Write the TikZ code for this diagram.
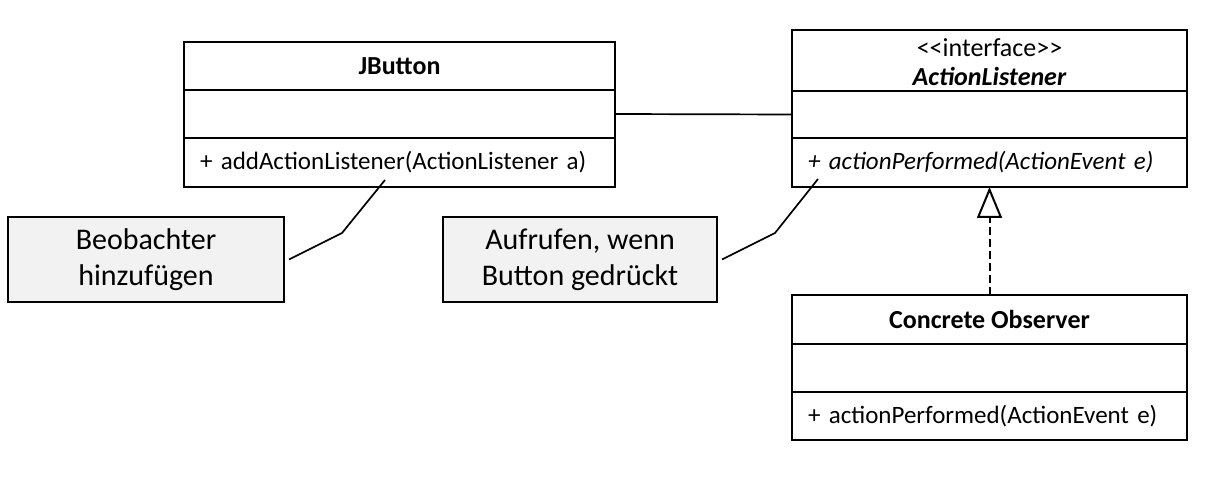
\documentclass[tikz,border=0pt]{standalone}
\usepackage{fontspec}
\setmainfont{Carlito}
\usetikzlibrary{arrows.meta, positioning}
\definecolor{notegray}{RGB}{242,242,242}

\begin{document}
\begin{tikzpicture}[
  x=1pt, y=-1pt,
  every node/.style={font=\fontsize{12.5}{14.5}\selectfont},
  part/.style={rectangle, draw, line width=1pt, outer sep=0pt, inner sep=0pt, align=center},
  namepart/.style={part, font=\fontsize{13}{14.5}\selectfont\bfseries},
  methpart/.style={part, align=left, inner xsep=8pt, minimum height=24.5pt},
  notebox/.style={rectangle, draw, line width=1pt, fill=notegray, minimum width=138pt, minimum height=42.5pt, align=center, font=\fontsize{15}{18}\selectfont},
  link/.style={line width=0.85pt},
  realize/.style={-{Triangle[open, length=15.5pt, width=12.5pt]}, line width=1pt, dash pattern=on 4pt off 2pt}
]
\useasboundingbox (0,0) rectangle (608,251);

% JButton (left class)
\node[namepart, anchor=north, minimum width=215.5pt, minimum height=24pt] (jbname) at (199.75,21) {JButton};
\node[part, minimum width=215.5pt, minimum height=24pt, below=0pt of jbname] (jbattr) {};
\node[methpart, text width=199.5pt, below=0pt of jbattr] (jbmeth) {+ addActionListener(ActionListener a)};

% ActionListener (interface), title text set a bit low in its box
\node[part, anchor=north, minimum width=197.5pt, minimum height=30.5pt] (alname) at (494.75,15) {};
\node[align=center, inner sep=0pt, font=\fontsize{13}{14.5}\selectfont] (altitle) at ([yshift=-1pt]alname.center) {<\kern0pt<interface>\kern0pt>\\\textbf{\textit{ActionListener}}};
\node[part, minimum width=197.5pt, minimum height=23.5pt, below=0pt of alname] (alattr) {};
\node[methpart, text width=181.5pt, below=0pt of alattr] (almeth) {\textit{+ actionPerformed(ActionEvent e)}};

% Concrete Observer
\node[namepart, anchor=north, minimum width=197.5pt, minimum height=24.5pt] (coname) at (494.75,147.5) {Concrete Observer};
\node[part, minimum width=197.5pt, minimum height=24pt, below=0pt of coname] (coattr) {};
\node[methpart, text width=181.5pt, minimum height=24pt, below=0pt of coattr] (cometh) {+ actionPerformed(ActionEvent e)};

% notes
\node[notebox] (addnote) at (73,129.75) {Beobachter\\hinzufügen};
\node[notebox, minimum width=137pt] (callnote) at (290,129.75) {Aufrufen, wenn\\Button gedrückt};

% note hooks
\coordinate (addbend) at (171,116.5);
\coordinate (addhook) at (192.5,90);
\coordinate (callbend) at (387.5,116.5);
\coordinate (callhook) at (409,89.5);

% association
\draw[link] (jbattr.east) -- (alattr.west);

% realization
\draw[realize] (coname.north) -- (almeth.south);

% note lines
\draw[link] ([xshift=2pt]addnote.east) -- (addbend) -- (addhook);
\draw[link] ([xshift=2pt]callnote.east) -- (callbend) -- (callhook);
\end{tikzpicture}
\end{document}
